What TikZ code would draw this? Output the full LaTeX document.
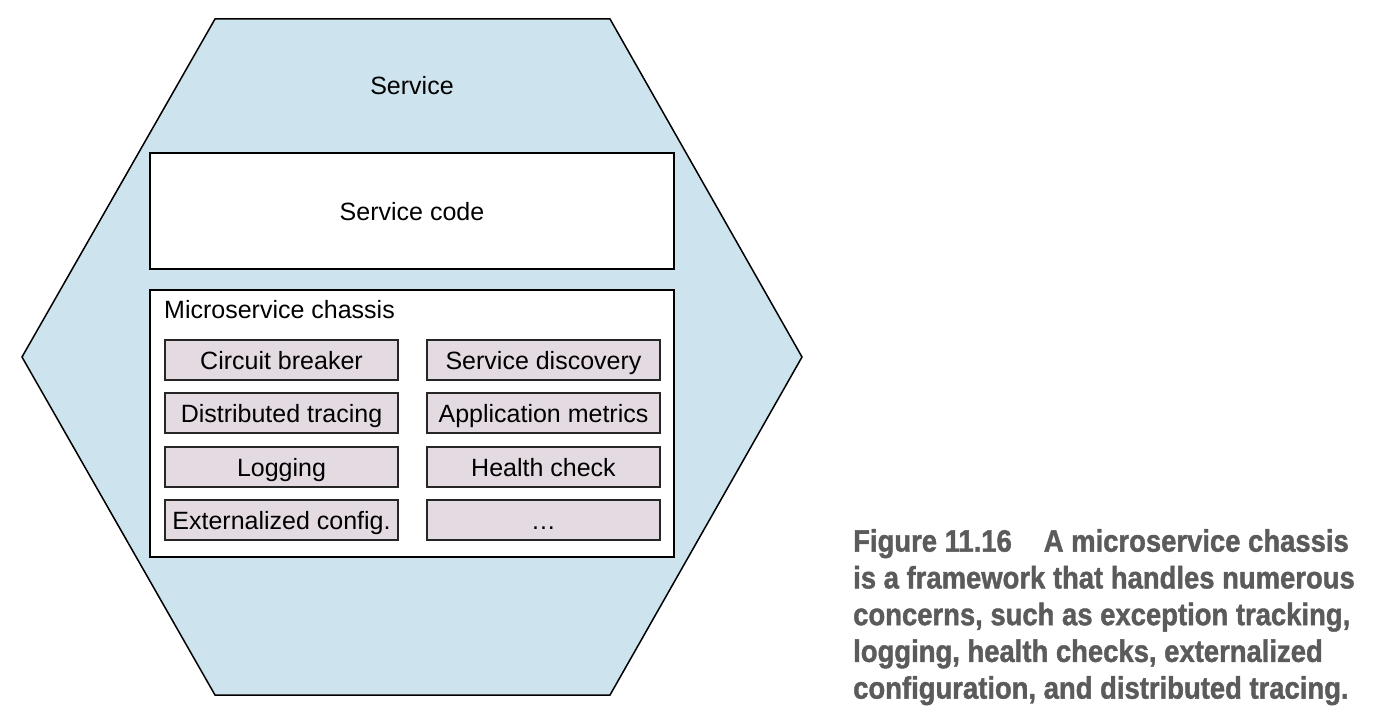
\documentclass[tikz,border=0pt]{standalone}
\usepackage{fontspec}
\setmainfont{Liberation Sans}
\newfontfamily\capfont[FakeStretch=0.885, BoldFeatures={FakeBold=1.3}]{Liberation Sans}
\definecolor{hexfill}{HTML}{CDE4EE}
\definecolor{boxfill}{HTML}{E4DAE2}
\definecolor{capgray}{HTML}{5B5B5B}
\begin{document}
\begin{tikzpicture}[x=1pt,y=-1pt,
  lbl/.style={font=\fontsize{25}{30}\selectfont, inner sep=0pt},
  feat/.style={draw=black!85, line width=1.8pt, fill=boxfill, minimum width=233pt, minimum height=40pt, inner sep=0pt, text height=18pt, text depth=0pt, font=\fontsize{25}{30}\selectfont},
  panel/.style={draw=black, line width=1.4pt, fill=white}]
\useasboundingbox (0,0) rectangle (1378,714);
\fill[white] (0,0) rectangle (1378,714);
% hexagon
\draw[line width=1.5pt, fill=hexfill, line join=miter] (215,19) -- (610,19) -- (802,357) -- (610,695) -- (215,695) -- (22,357) -- cycle;
\node[lbl] (svc) at (412,86) {Service};
% service code
\draw[panel] (150,153) rectangle (674,269);
\node[lbl] (code) at (412,212) {Service code};
% chassis
\draw[panel] (150,290) rectangle (674,557);
\node[lbl, anchor=west] (chlabel) at (164,310) {Microservice chassis};
\node[feat] (cb) at (281.5,360) {Circuit breaker};
\node[feat] (sd) at (543.5,360) {Service discovery};
\node[feat] (dt) at (281.5,413) {Distributed tracing};
\node[feat] (am) at (543.5,413) {Application metrics};
\node[feat] (lg) at (281.5,467) {Logging};
\node[feat] (hc) at (543.5,467) {Health check};
\node[feat] (ec) at (281.5,520) {Externalized config.};
\node[feat] (more) at (543.5,520) {.\kern1pt.\kern1pt.};
% caption
\node[anchor=north west, inner sep=0pt, align=left, text=capgray,
  font=\capfont\bfseries\fontsize{31}{36.75}\selectfont] (cap) at (853,529)
  {Figure 11.16\hspace{32pt}A microservice chassis\\
   is a framework that handles numerous\\
   concerns, such as exception tracking,\\
   logging, health checks, externalized\\
   configuration, and distributed tracing.};
\end{tikzpicture}
\end{document}
